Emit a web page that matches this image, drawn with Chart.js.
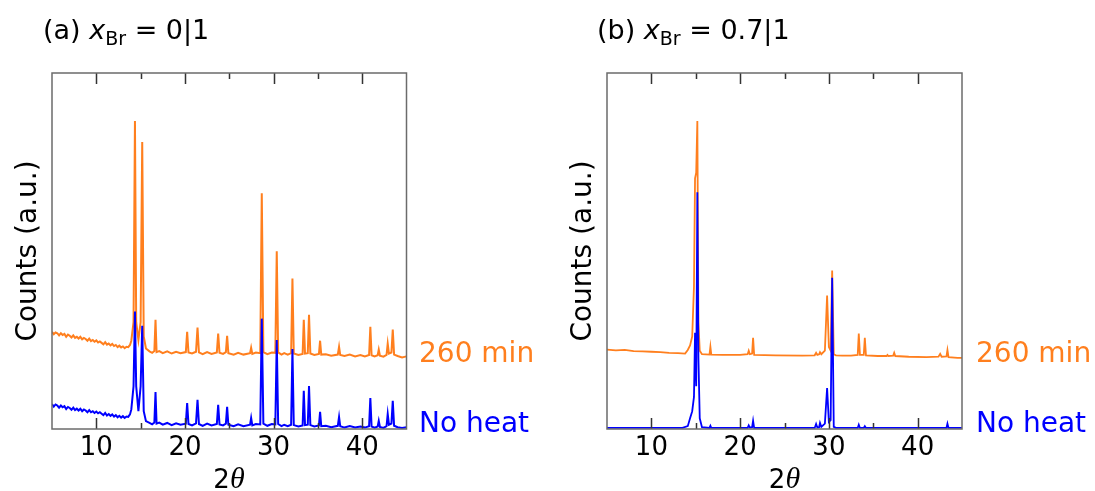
<!DOCTYPE html>
<html>
<head>
<meta charset="utf-8">
<script src="https://cdn.jsdelivr.net/npm/chart.js@4.4.1/dist/chart.umd.min.js"></script>
<style>
  html, body { margin: 0; padding: 0; background: #fff; }
  #wrap { position: relative; width: 1095px; height: 491px; overflow: hidden; font-family: "DejaVu Sans", sans-serif; }
  canvas { position: absolute; top: 0; }
  .txt { position: absolute; white-space: nowrap; line-height: 1; color: #000; }
  .title { font-size: 27px; top: 16px; }
  .title sub { font-size: 19px; vertical-align: -6px; line-height: 0; }
  .lab { font-size: 28px; }
  .heat { color: #ff7f1e; top: 339.3px; }
  .noheat { color: #0000ff; top: 409.3px; }
  .xt { font-size: 26px; top: 463px; width: 120px; text-align: center; }
  .xt i { font-family: "Liberation Serif", serif; font-size: 30px; }
</style>
</head>
<body>
<div id="wrap">
  <canvas id="chartA" width="548" height="491" style="left:0"></canvas>
  <canvas id="chartB" width="547" height="491" style="left:548px"></canvas>

  <div class="txt title" style="left:43px">(a) <i>x</i><sub>Br</sub> = 0|1</div>
  <div class="txt title" style="left:597px">(b) <i>x</i><sub>Br</sub> = 0.7|1</div>

  <div class="txt lab heat" style="left:419px">260 min</div>
  <div class="txt lab noheat" style="left:419px">No heat</div>
  <div class="txt lab heat" style="left:976px">260 min</div>
  <div class="txt lab noheat" style="left:976px">No heat</div>

  <div class="txt xt" style="left:169px">2<i>θ</i></div>
  <div class="txt xt" style="left:724.5px">2<i>θ</i></div>
</div>

<script>
// x axis: 2θ in degrees, y: counts in arbitrary units (0..100 of the frame)
const xMin = 5
const xMax = 45
const majorTicks = [10, 20, 30, 40]
const minorTicks = [15, 25, 35]

// (a) x_Br = 0|1, heated 260 min (offset trace)
const heatA = [
  [5.0, 27.3], [5.2, 26.6], [5.4, 27.1], [5.6, 26.9], [5.8, 26.3], [6.0, 26.9], [6.2, 26.4], [6.4, 26.7], [6.6, 25.9], [6.8, 26.5],
  [7.0, 26.2], [7.2, 25.7], [7.4, 26.3], [7.6, 25.6], [7.8, 25.9], [8.0, 25.4], [8.2, 25.9], [8.4, 25.2], [8.6, 25.6], [8.8, 25.3],
  [9.0, 24.8], [9.2, 25.4], [9.4, 24.7], [9.6, 25.0], [9.8, 24.5], [10.0, 24.9], [10.2, 24.3], [10.4, 24.6], [10.6, 24.2], [10.8, 23.8],
  [11.0, 24.4], [11.2, 23.7], [11.4, 24.0], [11.6, 23.5], [11.8, 23.9], [12.0, 23.3], [12.2, 23.6], [12.4, 23.0], [12.6, 23.4], [12.8, 22.9],
  [13.0, 23.2], [13.2, 22.7], [13.4, 23.1], [13.6, 23.0], [13.8, 23.6],
  [13.95, 24.8], [14.2, 30], [14.36, 86.5], [14.5, 30], [14.75, 25], [15.0, 30], [15.18, 80.6], [15.35, 26], [15.6, 22.6], [16.0, 21.8],
  [16.3, 21.4], [16.55, 21.9], [16.68, 30.7], [16.8, 21.6], [17.1, 21.9], [17.5, 21.3], [18.0, 21.8], [18.5, 21.2], [19.0, 21.7], [19.5, 21.3],
  [20.1, 21.6], [20.25, 27.3], [20.4, 21.5], [20.8, 21.2], [21.25, 21.7], [21.42, 28.5], [21.58, 21.5], [22.0, 21.0], [22.5, 21.6], [23.0, 21.1],
  [23.6, 21.5], [23.75, 26.8], [23.9, 21.4], [24.3, 21.1], [24.62, 21.6], [24.76, 26.2], [24.9, 21.3], [25.5, 20.9], [26.0, 21.4], [26.6, 20.9],
  [27.35, 21.3], [27.47, 22.8], [27.6, 21.1], [28.0, 21.5], [28.5, 21.3], [28.67, 66.2], [28.85, 21.6], [29.3, 21.0], [29.8, 21.5], [30.2, 21.4],
  [30.36, 49.9], [30.52, 21.5], [30.9, 20.9], [31.2, 21.3], [31.6, 20.9], [31.98, 21.3], [32.13, 42.3], [32.28, 21.2], [32.8, 20.8], [33.28, 21.1],
  [33.41, 30.7], [33.55, 21.2], [33.86, 21.3], [34.0, 32.1], [34.15, 21.2], [34.6, 20.8], [35.12, 21.1], [35.25, 24.8], [35.38, 20.9], [35.9, 21.0],
  [36.5, 20.6], [37.25, 20.9], [37.39, 23.1], [37.52, 20.8], [38.0, 20.5], [38.6, 20.9], [39.2, 20.4], [39.8, 20.8], [40.3, 20.4], [40.78, 20.8],
  [40.92, 28.7], [41.06, 20.7], [41.4, 20.4], [41.75, 20.7], [41.87, 22.3], [42.0, 20.6], [42.4, 20.3], [42.75, 20.8], [42.88, 24.0], [43.02, 21.2],
  [43.3, 21.5], [43.45, 27.9], [43.6, 20.9], [44.0, 20.5], [44.5, 20.1], [45.0, 20.4]
]

// (a) no heat
const noHeatA = [
  [5.0, 7.0], [5.2, 6.3], [5.4, 6.9], [5.6, 6.6], [5.8, 6.0], [6.0, 6.6], [6.2, 6.1], [6.4, 6.4], [6.6, 5.6], [6.8, 6.2],
  [7.0, 5.9], [7.2, 5.4], [7.4, 6.0], [7.6, 5.3], [7.8, 5.7], [8.0, 5.2], [8.2, 5.7], [8.4, 5.0], [8.6, 5.5], [8.8, 5.2],
  [9.0, 4.7], [9.2, 5.3], [9.4, 4.7], [9.6, 5.0], [9.8, 4.5], [10.0, 4.9], [10.2, 4.4], [10.4, 4.7], [10.6, 4.3], [10.8, 3.9],
  [11.0, 4.5], [11.2, 3.8], [11.4, 4.2], [11.6, 3.7], [11.8, 4.1], [12.0, 3.5], [12.2, 3.9], [12.4, 3.3], [12.6, 3.7], [12.8, 3.2],
  [13.0, 3.6], [13.2, 3.1], [13.4, 3.5], [13.6, 3.4], [13.8, 4.1],
  [13.95, 5.5], [14.2, 12], [14.36, 33], [14.5, 12], [14.75, 5], [15.0, 12], [15.18, 29], [15.35, 5], [15.6, 2.2], [16.0, 1.7],
  [16.3, 1.3], [16.55, 1.8], [16.68, 10.4], [16.8, 1.5], [17.1, 1.8], [17.5, 1.2], [18.0, 1.7], [18.5, 1.1], [19.0, 1.6], [19.5, 1.2],
  [20.1, 1.5], [20.25, 7.3], [20.4, 1.4], [20.8, 1.0], [21.25, 1.6], [21.42, 8.2], [21.58, 1.4], [22.0, 0.9], [22.5, 1.5], [23.0, 1.0],
  [23.6, 1.4], [23.75, 6.8], [23.9, 1.3], [24.3, 1.0], [24.62, 1.5], [24.76, 6.2], [24.9, 1.2], [25.5, 0.8], [26.0, 1.3], [26.6, 0.8],
  [27.35, 1.2], [27.47, 3.1], [27.6, 1.0], [28.0, 1.4], [28.5, 1.3], [28.67, 31], [28.85, 1.5], [29.3, 0.9], [29.8, 1.4], [30.2, 1.3],
  [30.36, 25], [30.52, 1.4], [30.9, 0.8], [31.2, 1.2], [31.6, 0.8], [31.98, 1.2], [32.13, 22.5], [32.28, 1.1], [32.8, 0.7], [33.28, 1.0],
  [33.41, 10.7], [33.55, 1.1], [33.86, 1.2], [34.0, 12.1], [34.15, 1.1], [34.6, 0.7], [35.12, 1.0], [35.25, 4.8], [35.38, 0.8], [35.9, 0.9],
  [36.5, 0.5], [37.25, 0.9], [37.39, 3.4], [37.52, 0.8], [38.0, 0.4], [38.6, 0.8], [39.2, 0.4], [39.8, 0.7], [40.3, 0.4], [40.78, 0.8],
  [40.92, 8.7], [41.06, 0.7], [41.4, 0.4], [41.75, 0.7], [41.87, 2.3], [42.0, 0.6], [42.4, 0.3], [42.75, 0.8], [42.88, 4.2], [43.02, 1.2],
  [43.3, 1.5], [43.45, 7.9], [43.6, 0.9], [44.0, 0.5], [44.5, 0.3], [45.0, 0.5]
]

// (b) x_Br = 0.7|1, heated 260 min
const heatB = [
  [5, 22.3], [6, 22.1], [7, 22.2], [8, 21.9], [9, 21.8], [10, 21.7], [11, 21.6], [12, 21.4], [13, 21.3], [13.8, 21.2],
  [14.1, 22.2], [14.36, 23.5], [14.6, 26], [14.8, 40], [14.92, 70.4], [15.05, 72], [15.18, 86.5], [15.3, 30], [15.45, 22], [15.7, 21],
  [16.55, 20.9], [16.65, 23.1], [16.75, 20.9], [18, 20.8], [20, 20.8], [20.85, 21.0], [20.97, 22.0], [21.1, 21.0], [21.35, 21.2], [21.46, 25.6], [21.58, 20.8],
  [24, 20.7], [27, 20.6], [28.4, 20.7], [28.56, 21.4], [28.7, 20.8], [28.9, 21.0], [29.0, 21.6], [29.15, 21.0], [29.55, 22], [29.8, 37.5], [30.0, 23],
  [30.2, 22], [30.37, 44.5], [30.55, 21.0], [30.8, 20.7],
  [31.5, 20.6], [32.5, 20.6], [33.25, 20.8], [33.37, 26.8], [33.5, 20.8], [33.93, 20.8], [34.05, 25.6], [34.18, 20.7],
  [35.5, 20.5], [36.5, 20.5], [36.6, 20.8], [36.7, 20.5], [37.25, 20.6], [37.36, 21.4], [37.48, 20.5],
  [39, 20.3], [41, 20.2], [42.35, 20.3], [42.54, 21.1], [42.7, 20.3], [43.25, 20.4], [43.36, 22.2], [43.48, 20.2], [44.5, 20.0], [45, 20.0]
]

// (b) no heat
const noHeatB = [
  [5, 0.3], [13.5, 0.3], [14.1, 0.8], [14.36, 3], [14.6, 5], [14.8, 9], [14.92, 27], [15.05, 12], [15.18, 66.5], [15.3, 20], [15.45, 3], [15.7, 0.5],
  [16.55, 0.3], [16.65, 0.9], [16.75, 0.3], [20.85, 0.3], [20.97, 1.0], [21.1, 0.4], [21.35, 0.5], [21.46, 2.3], [21.58, 0.3],
  [28.4, 0.3], [28.56, 1.4], [28.7, 0.4], [28.9, 0.5], [29.0, 1.7], [29.15, 0.6], [29.55, 1.5], [29.8, 11.5], [30.0, 2], [30.2, 2.5], [30.37, 42.5], [30.55, 0.6], [30.8, 0.3],
  [33.25, 0.3], [33.37, 1.2], [33.5, 0.3], [33.93, 0.3], [34.05, 0.8], [34.18, 0.3], [43.25, 0.3], [43.36, 1.5], [43.48, 0.3], [45, 0.3]
]

const orange = '#ff7f1e'
const blue = '#0000ff'

Chart.defaults.font.family = '"DejaVu Sans", sans-serif'
Chart.defaults.color = '#000'

// Grey frame plus inward ticks on top and bottom edges
const framePlugin = {
  id: 'frame',
  afterDatasetsDraw(chart) {
    const {ctx, chartArea: {left, right, top, bottom}, scales: {x}} = chart
    ctx.save()
    ctx.strokeStyle = '#333'
    ctx.lineWidth = 1.5
    const tick = (v, len) => {
      const px = Math.round(x.getPixelForValue(v)) + 0.5
      ctx.beginPath()
      ctx.moveTo(px, top); ctx.lineTo(px, top + len)
      ctx.moveTo(px, bottom); ctx.lineTo(px, bottom - len)
      ctx.stroke()
    }
    majorTicks.forEach(v => tick(v, 11))
    minorTicks.forEach(v => tick(v, 6))
    ctx.strokeStyle = '#6b6b6b'
    ctx.strokeRect(left, top, right - left, bottom - top)
    ctx.restore()
  }
}

const toXY = pts => pts.map(p => ({x: p[0], y: p[1]}))

/**
 * Builds one XRD panel
 * @param {string} id canvas id
 * @param {[[number]]} heat 260 min trace
 * @param {[[number]]} noHeat unheated trace
 * @param {object} padding layout padding that places the frame
 * @param {number} width line width of both traces
 */
function makePanel(id, heat, noHeat, padding, width) {
  const line = (data, color) => ({
    data: toXY(data), borderColor: color, borderWidth: width,
    pointRadius: 0, tension: 0, fill: false
  })

  return new Chart(document.getElementById(id), {
    type: 'line',
    data: {
      // first dataset is drawn on top
      datasets: [line(noHeat, blue), line(heat, orange)]
    },
    options: {
      responsive: false,
      animation: false,
      layout: {padding: padding},
      plugins: {legend: {display: false}, tooltip: {enabled: false}},
      scales: {
        x: {
          type: 'linear', min: xMin, max: xMax,
          afterBuildTicks: axis => { axis.ticks = majorTicks.map(v => ({value: v})) },
          grid: {display: false, drawTicks: false},
          border: {display: false},
          ticks: {font: {size: 26, lineHeight: 1}, padding: 6.5, maxRotation: 0}
        },
        y: {
          min: 0, max: 100,
          grid: {display: false, drawTicks: false},
          border: {display: false},
          ticks: {display: false},
          title: {
            display: true, text: 'Counts (a.u.)',
            font: {size: 28, lineHeight: 1},
            padding: {top: 0, bottom: 9.5}
          }
        }
      }
    },
    plugins: [framePlugin]
  })
}

makePanel('chartA', heatA, noHeatA, {left: 14.5, right: 141.5, top: 73, bottom: 23}, 2)
makePanel('chartB', heatB, noHeatB, {left: 21.5, right: 133, top: 73, bottom: 23}, 1.8)
</script>
</body>
</html>
